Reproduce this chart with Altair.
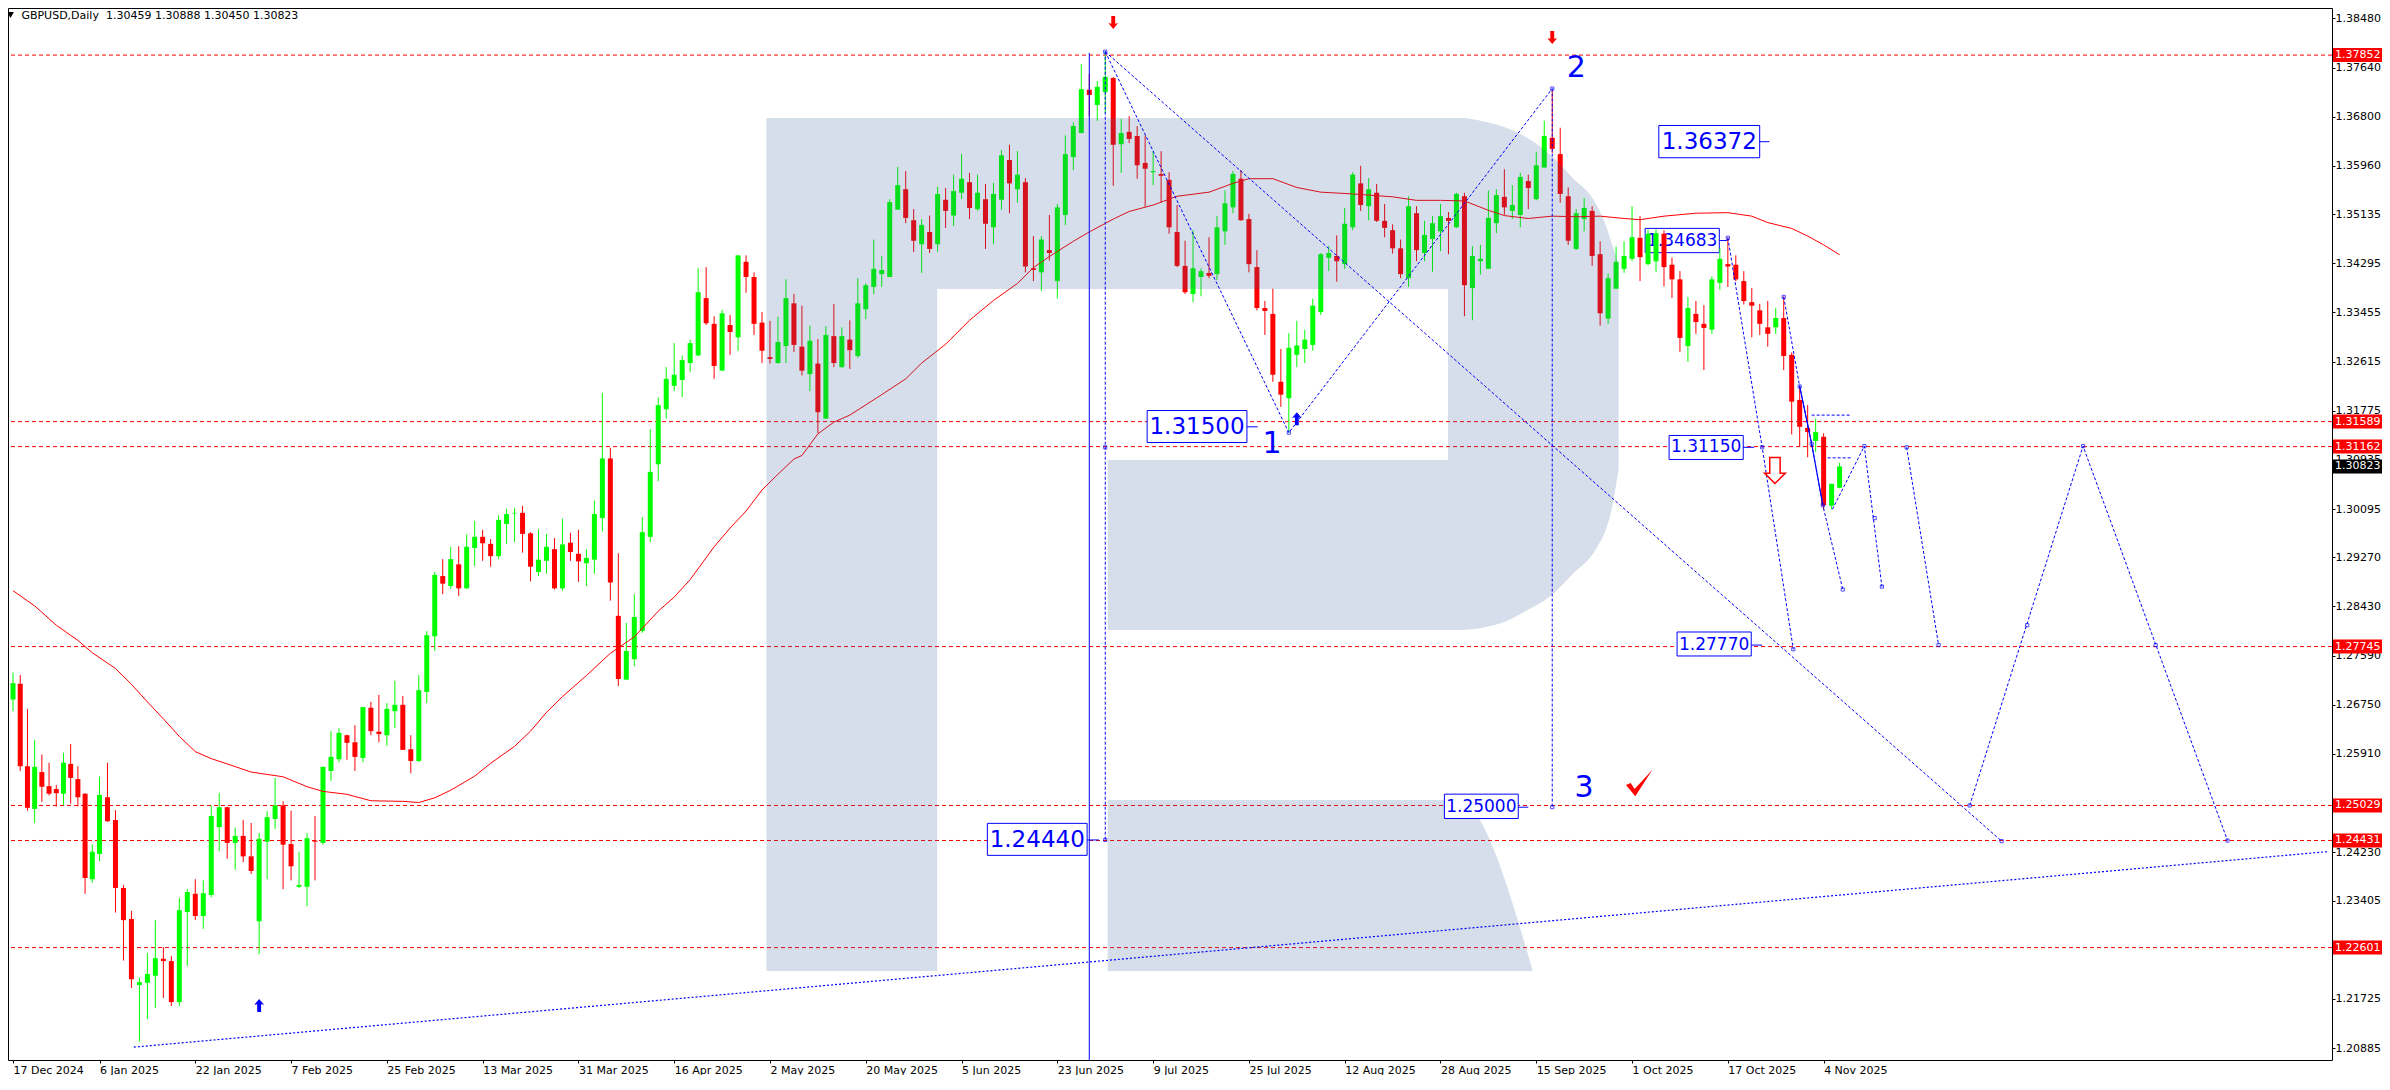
import altair as alt
import pandas as pd

FONT = "DejaVu Sans"
RED = "#ff0000"
LIME = "#00ff00"
BLUE = "#0000ff"

open_ = [
1.2684,1.2711,1.2570,1.2497,1.2560,1.2536,1.2531,1.2523,1.2574,1.2548,
1.2523,1.2377,1.2420,1.2517,1.2478,1.2362,1.2309,1.2196,1.2200,1.2212,
1.2241,1.2237,1.2167,1.2321,1.2352,1.2314,1.2350,1.2466,1.2500,1.2439,
1.2451,1.2416,1.2305,1.2441,1.2480,1.2503,1.2437,1.2364,1.2364,1.2443,
1.2439,1.2562,1.2582,1.2623,1.2611,1.2584,1.2670,1.2629,1.2623,1.2664,
1.2675,1.2599,1.2579,1.2697,1.2792,1.2895,1.2878,1.2915,1.2874,1.2943,
1.2962,1.2950,1.2929,1.2984,1.3002,1.3003,1.2968,1.2902,1.2921,1.2941,
1.2874,1.2952,1.2933,1.2917,1.2923,1.2994,1.3096,1.2827,1.2718,1.2753,
1.2801,1.2962,1.3086,1.3180,1.3220,1.3230,1.3259,1.3272,1.3370,1.3326,
1.3246,1.3324,1.3303,1.3432,1.3406,1.3328,1.3269,1.3259,1.3288,1.3361,
1.3287,1.3240,1.3258,1.3164,1.3305,1.3252,1.3299,1.3271,1.3351,1.3389,
1.3411,1.3406,1.3521,1.3556,1.3503,1.3462,1.3483,1.3462,1.3538,1.3511,
1.3550,1.3568,1.3522,1.3539,1.3491,1.3538,1.3606,1.3556,1.3568,1.3421,
1.3414,1.3452,1.3399,1.3512,1.3611,1.3652,1.3726,1.3700,1.3722,1.3746,
1.3633,1.3654,1.3647,1.3601,1.3585,1.3582,1.3572,1.3483,1.3425,1.3377,
1.3406,1.3413,1.3411,1.3484,1.3525,1.3574,1.3505,1.3423,1.3353,1.3343,
1.3227,1.3199,1.3273,1.3283,1.3290,1.3346,1.3439,1.3442,1.3428,1.3491,
1.3566,1.3527,1.3550,1.3502,1.3486,1.3455,1.3404,1.3515,1.3447,1.3471,
1.3484,1.3507,1.3491,1.3544,1.3387,1.3433,1.3420,1.3498,1.3543,1.3519,
1.3512,1.3570,1.3539,1.3593,1.3644,1.3616,1.3544,1.3454,1.3505,1.3519,
1.3445,1.3335,1.3386,1.3420,1.3437,1.3473,1.3428,1.3433,1.3480,1.3427,
1.3402,1.3288,1.3343,1.3326,1.3316,1.3396,1.3428,1.3427,1.3399,1.3363,
1.3349,1.3320,1.3320,1.3336,1.3273,1.3196,1.3148,1.3126,1.3133,1.3015,
1.30459]

close = [
1.2712,1.2570,1.2499,1.2569,1.2535,1.2523,1.2524,1.2576,1.2550,1.2517,
1.2379,1.2424,1.2521,1.2476,1.2362,1.2307,1.2206,1.2201,1.2215,1.2242,
1.2237,1.2167,1.2324,1.2355,1.2314,1.2353,1.2485,1.2500,1.2439,1.2451,
1.2416,1.2391,1.2446,1.2483,1.2503,1.2436,1.2399,1.2367,1.2447,1.2441,
1.2569,1.2586,1.2627,1.2610,1.2586,1.2671,1.2630,1.2625,1.2668,1.2675,
1.2598,1.2579,1.2700,1.2794,1.2897,1.2882,1.2924,1.2874,1.2945,1.2962,
1.2951,1.2929,1.2991,1.3001,1.3003,1.2967,1.2911,1.2923,1.2945,1.2874,
1.2949,1.2936,1.2920,1.2926,1.3001,1.3096,1.2884,1.2719,1.2767,1.2825,
1.2970,1.3073,1.3187,1.3232,1.3239,1.3264,1.3293,1.3380,1.3327,1.3254,
1.3344,1.3312,1.3443,1.3406,1.3326,1.3280,1.3266,1.3295,1.3370,1.3290,
1.3246,1.3297,1.3175,1.3307,1.3259,1.3305,1.3281,1.3361,1.3392,1.3420,
1.3418,1.3534,1.3563,1.3507,1.3468,1.3495,1.3454,1.3548,1.3519,1.3553,
1.3574,1.3524,1.3550,1.3497,1.3548,1.3614,1.3566,1.3581,1.3424,1.3418,
1.3470,1.3447,1.3525,1.3616,1.3664,1.3727,1.3717,1.3731,1.3748,1.3632,
1.3652,1.3642,1.3597,1.3591,1.3587,1.3579,1.3491,1.3425,1.3380,1.3421,
1.3416,1.3408,1.3491,1.3532,1.3582,1.3503,1.3428,1.3353,1.3348,1.3239,
1.3205,1.3285,1.3289,1.3299,1.3357,1.3445,1.3447,1.3433,1.3497,1.3581,
1.3529,1.3556,1.3502,1.3490,1.3455,1.3411,1.3527,1.3452,1.3478,1.3498,
1.3510,1.3502,1.3548,1.3392,1.3442,1.3437,1.3507,1.3546,1.3525,1.3529,
1.3577,1.3558,1.3597,1.3647,1.3625,1.3548,1.3468,1.3515,1.3524,1.3442,
1.3344,1.3404,1.3432,1.3442,1.3474,1.3440,1.3480,1.3481,1.3423,1.3402,
1.3302,1.3353,1.3329,1.3319,1.3402,1.3437,1.3424,1.3402,1.3365,1.3357,
1.3326,1.3309,1.3336,1.3271,1.3193,1.3150,1.3141,1.3141,1.3016,1.30524,
1.30823]

high = [
1.2730,1.2726,1.2668,1.2615,1.2590,1.2576,1.2538,1.2593,1.2608,1.2570,
1.2524,1.2436,1.2552,1.2576,1.2495,1.2367,1.2323,1.2209,1.2251,1.2307,
1.2261,1.2246,1.2345,1.2360,1.2377,1.2375,1.2503,1.2524,1.2501,1.2465,
1.2478,1.2473,1.2456,1.2493,1.2550,1.2510,1.2494,1.2424,1.2456,1.2485,
1.2569,1.2630,1.2635,1.2624,1.2640,1.2671,1.2680,1.2692,1.2678,1.2716,
1.2690,1.2623,1.2726,1.2801,1.2902,1.2924,1.2945,1.2946,1.2966,1.2989,
1.2974,1.2958,1.2999,1.3010,1.3011,1.3015,1.2970,1.2975,1.2967,1.2960,
1.2993,1.2969,1.2974,1.2941,1.3024,1.3208,1.3114,1.2934,1.2815,1.2864,
1.2996,1.3146,1.3200,1.3252,1.3293,1.3272,1.3299,1.3421,1.3423,1.3339,
1.3350,1.3341,1.3443,1.3443,1.3414,1.3346,1.3331,1.3338,1.3402,1.3377,
1.3357,1.3323,1.3300,1.3322,1.3360,1.3320,1.3332,1.3404,1.3395,1.3470,
1.3442,1.3539,1.3594,1.3587,1.3522,1.3505,1.3511,1.3560,1.3558,1.3581,
1.3616,1.3584,1.3581,1.3565,1.3567,1.3623,1.3632,1.3621,1.3575,1.3476,
1.3476,1.3512,1.3531,1.3648,1.3670,1.3770,1.3753,1.3741,1.3792,1.3748,
1.3676,1.3681,1.3664,1.3648,1.3621,1.3621,1.3585,1.3529,1.3468,1.3486,
1.3421,1.3474,1.3510,1.3554,1.3587,1.3589,1.3514,1.3452,1.3365,1.3386,
1.3283,1.3310,1.3331,1.3316,1.3369,1.3447,1.3459,1.3477,1.3524,1.3585,
1.3596,1.3575,1.3565,1.3531,1.3496,1.3470,1.3544,1.3527,1.3502,1.3510,
1.3531,1.3517,1.3550,1.3550,1.3459,1.3461,1.3554,1.3556,1.3590,1.3563,
1.3584,1.3581,1.3620,1.3673,1.3724,1.3661,1.3559,1.3522,1.3541,1.3527,
1.3467,1.3412,1.3458,1.3467,1.3527,1.3510,1.3487,1.3487,1.3486,1.3439,
1.3416,1.3372,1.3365,1.3358,1.3407,1.3455,1.3474,1.3443,1.3416,1.3387,
1.3360,1.3365,1.3353,1.3373,1.3277,1.3220,1.3187,1.3164,1.3139,1.3053,
1.30888]

low = [
1.2664,1.2562,1.2494,1.2473,1.2509,1.2520,1.2501,1.2504,1.2506,1.2501,
1.2352,1.2371,1.2408,1.2475,1.2320,1.2238,1.2191,1.2099,1.2138,1.2157,
1.2174,1.2160,1.2160,1.2229,1.2307,1.2292,1.2346,1.2425,1.2412,1.2393,
1.2406,1.2386,1.2249,1.2377,1.2463,1.2360,1.2375,1.2362,1.2331,1.2375,
1.2436,1.2545,1.2577,1.2581,1.2562,1.2577,1.2623,1.2611,1.2605,1.2635,
1.2598,1.2558,1.2577,1.2678,1.2767,1.2864,1.2873,1.2861,1.2873,1.2912,
1.2921,1.2911,1.2924,1.2950,1.2953,1.2935,1.2886,1.2895,1.2899,1.2872,
1.2870,1.2921,1.2885,1.2878,1.2899,1.2971,1.2853,1.2707,1.2718,1.2741,
1.2798,1.2953,1.3057,1.3164,1.3211,1.3201,1.3244,1.3271,1.3324,1.3232,
1.3246,1.3273,1.3280,1.3379,1.3307,1.3259,1.3258,1.3258,1.3259,1.3278,
1.3238,1.3211,1.3139,1.3164,1.3252,1.3251,1.3249,1.3268,1.3334,1.3377,
1.3389,1.3406,1.3521,1.3498,1.3449,1.3413,1.3447,1.3449,1.3490,1.3493,
1.3539,1.3505,1.3519,1.3454,1.3462,1.3521,1.3515,1.3533,1.3414,1.3399,
1.3382,1.3434,1.3369,1.3495,1.3589,1.3652,1.3681,1.3673,1.3686,1.3562,
1.3584,1.3635,1.3574,1.3526,1.3563,1.3533,1.3480,1.3423,1.3377,1.3363,
1.3373,1.3404,1.3401,1.3461,1.3515,1.3502,1.3414,1.3349,1.3307,1.3227,
1.3184,1.3140,1.3252,1.3259,1.3280,1.3341,1.3416,1.3398,1.3420,1.3486,
1.3519,1.3503,1.3500,1.3474,1.3446,1.3404,1.3389,1.3433,1.3433,1.3415,
1.3450,1.3445,1.3490,1.3339,1.3332,1.3410,1.3420,1.3481,1.3512,1.3505,
1.3491,1.3522,1.3537,1.3593,1.3618,1.3533,1.3461,1.3452,1.3484,1.3425,
1.3323,1.3326,1.3386,1.3413,1.3433,1.3399,1.3426,1.3414,1.3390,1.3370,
1.3278,1.3261,1.3309,1.3247,1.3309,1.3384,1.3389,1.3399,1.3359,1.3303,
1.3307,1.3287,1.3309,1.3247,1.3137,1.3116,1.3098,1.3107,1.3009,1.3009,
1.30450]

ma_bar = [0,3,6,9,11,14,16,18,20,22,24,26,28,31,35,38,40,43,46,50,52,54,56,59,61,64,66,68,70,73,76,79,82,84,86,89,
          91,93,95,97,99,100,102,104,106,110,113,115,118,121,124,127,129,131,134,136,139,141,144,147,151,154,156,159,
          162,165,169,174,177,180,183,186,188,191,194,197,200,203,205,208,212,216,219,221,224,226,228,230]
ma_val = [1.2870,1.2844,1.2811,1.2785,1.2764,1.2737,1.2710,1.2680,1.2651,1.2621,1.2595,1.2583,1.2574,1.2560,1.2552,1.2535,
          1.2527,1.2522,1.2511,1.2510,1.2508,1.2516,1.2529,1.2553,1.2575,1.2604,1.2630,1.2662,1.2689,1.2725,1.2763,1.2791,
          1.2835,1.2859,1.2889,1.2945,1.2977,1.3006,1.3042,1.3069,1.3095,1.3101,1.3138,1.3158,1.3170,1.3205,1.3232,1.3259,
          1.3291,1.3332,1.3366,1.3395,1.3422,1.3441,1.3467,1.3483,1.3505,1.3518,1.3529,1.3544,1.3551,1.3566,1.3574,1.3574,
          1.3559,1.3551,1.3548,1.3543,1.3537,1.3537,1.3536,1.3520,1.3511,1.3506,1.3510,1.3509,1.3510,1.3506,1.3504,1.3510,
          1.3515,1.3516,1.3510,1.3499,1.3489,1.3476,1.3461,1.3444]

tick_dates = ["17 Dec 2024","6 Jan 2025","22 Jan 2025","7 Feb 2025","25 Feb 2025","13 Mar 2025","31 Mar 2025",
              "16 Apr 2025","2 May 2025","20 May 2025","5 Jun 2025","23 Jun 2025","9 Jul 2025","25 Jul 2025",
              "12 Aug 2025","28 Aug 2025","15 Sep 2025","1 Oct 2025","17 Oct 2025","4 Nov 2025"]
tick_bars = [i * 12 for i in range(len(tick_dates))]
y_ticks = [1.38480,1.37640,1.36800,1.35960,1.35135,1.34295,1.33455,1.32615,1.31775,1.30935,1.30095,
           1.29270,1.28430,1.27590,1.26750,1.25910,1.25070,1.24230,1.23405,1.22565,1.21725,1.20885]

level_lines = [1.37852,1.31589,1.31162,1.27745,1.25029,1.24431,1.22601]
last_price = [1.30823]

# blue wave paths: (path id, bar, price)
path_id = ["A","A","A","B","B","C","C","D","D","E","E","E","F","F","F","F","F","H","H","H","I","I","J","J","J","K","K","L","L"]
path_bar = [138,161,194,138,250.3,138,138,194,194,216,220.3,224.2,223,225,226.5,227.9,230.4,229.1,233.1,235.3,238.4,242.4,246.3,260.5,278.6,226.5,231.4,228.5,231.4]
path_val = [1.3791,1.3140,1.3728,1.3791,1.2442,1.3791,1.2444,1.3728,1.2500,1.3473,1.3115,1.2770,1.3372,1.3219,1.3121,1.3016,1.2872,1.3009,1.3117,1.2877,1.3115,1.2777,1.2503,1.3117,1.2443,1.3170,1.3170,1.3097,1.3097]
solid_bar = [225,226.5,227.9]
solid_val = [1.3219,1.3121,1.3016]
node_bar = [138,138,161,194,194,138,216,220.3,224.2,223,225,226.5,227.9,230.4,233.1,234.4,235.3,238.4,242.4,246.3,253.5,260.5,269.6,278.6,250.3]
node_val = [1.3791,1.3115,1.3140,1.3728,1.2500,1.2444,1.3473,1.3115,1.2770,1.3372,1.3219,1.3121,1.3016,1.2872,1.3117,1.2994,1.2877,1.3115,1.2777,1.2503,1.2811,1.3117,1.2777,1.2443,1.2442]
trend_bar = [16.3,291.06]
trend_val = [1.2090,1.2424]

# boxed price labels
box_text = ["1.36372","1.34683","1.31150","1.31500","1.27770","1.25000","1.24440"]
box_price = [1.36372,1.34683,1.31150,1.31500,1.27770,1.25000,1.24440]
box_bar1 = [207.35,205.64,208.64,143.25,209.64,180.49,123.23]
box_bar2 = [219.99,214.93,217.93,155.75,218.93,189.74,135.73]
box_top = [1.36649,1.34891,1.31352,1.31779,1.27994,1.25223,1.24724]
box_bot = [1.36098,1.34476,1.30942,1.31232,1.27584,1.24807,1.24177]
box_font = [23,17,17,23,17,17,23]
box_lead = [221.2,216,219.3,157.1,220.3,191,137.2]

wave_text = ["1","2","3"]
wave_bar = [158.9,197,198]
wave_val = [1.31207,1.37632,1.25329]

# watermark letter pieces: bar, upper price, lower price
wm_piece = ["stem","stem","top","top","low","low"] + ["bowl"]*11 + ["leg"]*3
wm_bar = [95.56,116.94,116.94,180.94,138.31,180.94,
          180.94,182.44,185.69,188.31,190.69,193.94,196.44,199.56,200.69,201.31,202.31,
          138.31,182.19,191.56]
wm_up = [1.36778,1.36778,1.36778,1.36778,1.30934,1.30934,
         1.36778,1.36778,1.36709,1.36607,1.36453,1.36128,1.35769,1.35291,1.34949,1.34693,1.34283,
         1.25124,1.25124,1.22202]
wm_dn = [1.22202,1.22202,1.33856,1.33856,1.28029,1.28029,
         1.28029,1.28029,1.28080,1.28183,1.28353,1.28627,1.28968,1.29430,1.29737,1.30011,1.30780,
         1.22202,1.22202,1.22202]

Y_DOMAIN = [1.20680, 1.38657]
PLOT_W, PLOT_H = 2324, 1052
x_scale = alt.Scale(domain=[0, 12, 291.06], range=[0.5, 91.5, PLOT_W], nice=False, zero=False)
y_scale = alt.Scale(domain=Y_DOMAIN, nice=False, zero=False)

label_expr = "[" + ",".join(f"'{d}'" for d in tick_dates) + "][round(datum.value/12)]"
axis_font = dict(labelFont=FONT, labelFontSize=11, labelColor="black", tickColor="black",
                 domain=False, grid=False, title=None, labelOverlap=False, ticks=True,
                 labelBound=False, labelFlush=False, tickSize=3)
x_axis = alt.Axis(values=tick_bars, labelExpr=label_expr, labelAlign="left", orient="bottom", labelPadding=1, **axis_font)
y_axis = alt.Axis(values=y_ticks, format=".5f", orient="right", labelPadding=0, **axis_font)
X = lambda f: alt.X(f, type="quantitative", scale=x_scale, axis=x_axis)
Y = lambda f: alt.Y(f, type="quantitative", scale=y_scale, axis=y_axis)

candles = pd.DataFrame({"bar": range(len(open_)), "open": open_, "close": close, "high": high, "low": low})
candles["dir"] = ["up" if c >= o else "down" for o, c in zip(open_, close)]
dir_color = alt.Color("dir:N", scale=alt.Scale(domain=["up", "down"], range=[LIME, RED]), legend=None)

levels = alt.Chart(pd.DataFrame({"val": level_lines})).mark_rule(color=RED, strokeWidth=1, strokeDash=[4, 3]).encode(y=Y("val"))

boxes = pd.DataFrame({"t": box_text, "p": box_price, "b1": box_bar1, "b2": box_bar2, "top": box_top, "bot": box_bot,
                      "fs": box_font, "lead": box_lead})


def box_layer(df):
    rect = alt.Chart(df).mark_rect(fill="white", stroke=BLUE, strokeWidth=1).encode(
        x=X("b1"), x2="b2", y=Y("top"), y2="bot")
    lead = alt.Chart(df).mark_rule(color=BLUE, strokeWidth=1).encode(x=X("b2"), x2="lead", y=Y("p"))
    text = alt.Chart(df).transform_calculate(mid="(datum.b1+datum.b2)/2").mark_text(font=FONT, color=BLUE).encode(
        x=X("mid"), y=Y("p"), text="t:N", size=alt.Size("fs:Q", scale=None, legend=None))
    return [rect, lead, text]


under = boxes[boxes.t == "1.34683"]
over = boxes[boxes.t != "1.34683"]

wicks = alt.Chart(candles).mark_rule(strokeWidth=1).encode(x=X("bar"), y=Y("low"), y2="high", color=dir_color)
bodies = alt.Chart(candles).mark_bar(size=5).encode(x=X("bar"), y=Y("open"), y2="close", color=dir_color)
ma = alt.Chart(pd.DataFrame({"bar": ma_bar, "val": ma_val})).mark_line(color=RED, strokeWidth=1).encode(x=X("bar"), y=Y("val"))

wm = alt.Chart(pd.DataFrame({"piece": wm_piece, "bar": wm_bar, "up": wm_up, "dn": wm_dn})).mark_area(
    color="#2c5a96", opacity=0.2, line=False, interpolate="monotone").encode(x=X("bar"), y=Y("up"), y2="dn", detail="piece:N")

blue_v = alt.Chart(pd.DataFrame({"bar": [136], "top": [1.3789], "bot": [Y_DOMAIN[0]]})).mark_rule(color=BLUE, strokeWidth=1).encode(
    x=X("bar"), y=Y("top"), y2="bot")
paths = alt.Chart(pd.DataFrame({"id": path_id, "bar": path_bar, "val": path_val})).transform_window(ord="row_number()").mark_line(
    color=BLUE, strokeWidth=1, strokeDash=[3, 2]).encode(x=X("bar"), y=Y("val"), detail="id:N", order=alt.Order("ord:Q"))
solid = alt.Chart(pd.DataFrame({"bar": solid_bar, "val": solid_val})).mark_line(color=BLUE, strokeWidth=1.2).encode(x=X("bar"), y=Y("val"))
trend = alt.Chart(pd.DataFrame({"bar": trend_bar, "val": trend_val})).mark_line(color=BLUE, strokeWidth=1.2, strokeDash=[2, 2]).encode(x=X("bar"), y=Y("val"))
nodes = alt.Chart(pd.DataFrame({"bar": node_bar, "val": node_val})).mark_point(shape="square", size=10, color=BLUE, filled=False, strokeWidth=1).encode(x=X("bar"), y=Y("val"))

waves = alt.Chart(pd.DataFrame({"t": wave_text, "bar": wave_bar, "val": wave_val})).mark_text(
    font=FONT, fontSize=30, color=BLUE).encode(x=X("bar"), y=Y("val"), text="t:N")

DOWN = "M0,1 L-0.75,0.1 L-0.3,0.2 L-0.3,-1 L0.3,-1 L0.3,0.2 L0.75,0.1 Z"
UP = "M0,-1 L-0.75,-0.1 L-0.3,-0.2 L-0.3,1 L0.3,1 L0.3,-0.2 L0.75,-0.1 Z"
HOLLOW = "M0,1 L-0.8,0.2 L-0.4,0.2 L-0.4,-1 L0.4,-1 L0.4,0.2 L0.8,0.2 Z"
CHECK = "M-1,0.15 L-0.65,0.0 L-0.35,0.45 L1,-1 L-0.3,1 Z"

red_arrows = alt.Chart(pd.DataFrame({"bar": [139, 194], "val": [1.3841, 1.38153]})).mark_point(
    shape=DOWN, size=169, filled=True, color=RED, opacity=1).encode(x=X("bar"), y=Y("val"))
blue_arrows = alt.Chart(pd.DataFrame({"bar": [32, 162], "val": [1.21611, 1.3164]})).mark_point(
    shape=UP, size=169, filled=True, color=BLUE, opacity=1).encode(x=X("bar"), y=Y("val"))
hollow = alt.Chart(pd.DataFrame({"bar": [221.9], "val": [1.30753]})).mark_point(
    shape=HOLLOW, size=676, filled=True, fill="white", stroke=RED, strokeWidth=1.5, opacity=1).encode(x=X("bar"), y=Y("val"))
check = alt.Chart(pd.DataFrame({"bar": [204.9], "val": [1.25414]})).mark_point(
    shape=CHECK, size=700, filled=True, color=RED, opacity=1).encode(x=X("bar"), y=Y("val"))

level_df = pd.DataFrame({"val": level_lines})
last_df = pd.DataFrame({"val": last_price})


def tag_layers(df, bg):
    rule = alt.Chart(df).mark_rule(strokeWidth=14, color=bg).encode(
        x=alt.value(PLOT_W + 1), x2=alt.value(PLOT_W + 50), y=Y("val"))
    txt = alt.Chart(df).mark_text(font=FONT, fontSize=11, color="white", align="left").encode(
        x=alt.value(PLOT_W + 3), y=Y("val"), text=alt.Text("val:Q", format=".5f"))
    return [rule, txt]


title_df = pd.DataFrame({"t": ["GBPUSD,Daily\u00a0\u00a01.30459 1.30888 1.30450 1.30823"]})
title_tri = alt.Chart(title_df).mark_point(shape="triangle-down", size=45, filled=True, color="black", opacity=1).encode(
    x=alt.value(2.5), y=alt.value(7))
title_tx = alt.Chart(title_df).mark_text(font=FONT, fontSize=11, color="black", align="left").encode(
    x=alt.value(13.4), y=alt.value(7.5), text="t:N")

layers = [levels] + box_layer(under) + [wicks, bodies, ma, wm, blue_v, paths, solid, trend, nodes] + box_layer(over) + [
    waves, red_arrows, blue_arrows, hollow, check] + tag_layers(level_df, RED) + tag_layers(last_df, "black") + [title_tri, title_tx]

chart = alt.layer(*layers).properties(
    width=PLOT_W, height=PLOT_H,
    autosize=alt.AutoSizeParams(type="none"),
    padding={"left": 0, "top": 0, "right": 50, "bottom": 15},
    background="white",
).configure_view(stroke="black", strokeWidth=1)

chart.save("out.html", embed_options={"renderer": "svg", "actions": False})
